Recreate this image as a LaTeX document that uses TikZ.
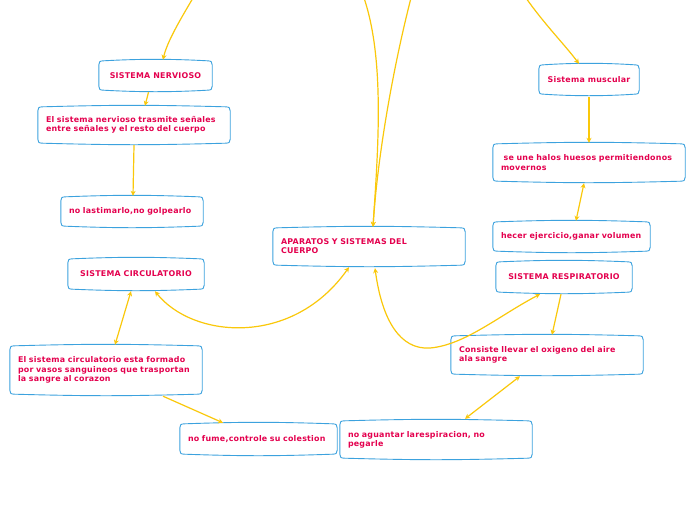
\documentclass[tikz,border=0pt]{standalone}
\usepackage{fontspec}
\newfontfamily\mmfont{DejaVu Sans}[LetterSpace=3]
\usetikzlibrary{calc,arrows.meta}
\definecolor{mmtext}{RGB}{228,0,78}
\definecolor{mmblue}{RGB}{60,162,222}
\definecolor{mmyel}{RGB}{250,200,10}
\tikzset{
  mmnode/.style={inner xsep=8pt, inner ysep=0pt, text=mmtext, font=\mmfont\bfseries\fontsize{7.9}{9.2}\selectfont, align=left},
  mmcenter/.style={mmnode, align=center},
  frame/.style={draw=mmblue, line width=0.9pt},
  conn/.style={draw=mmyel, line width=1.2pt, -{Stealth[length=5pt,width=5pt]}},
  conn2/.style={draw=mmyel, line width=1.2pt, {Stealth[length=5pt,width=5pt]}-{Stealth[length=5pt,width=5pt]}},
}
\newcommand\mmframe[1]{%
\draw[frame] ($(#1.south west)+(0pt,4pt)$) -- ($(#1.north west)+(0pt,-4pt)$)
 .. controls ($(#1.north west)+(0pt,-1pt)$) and ($(#1.north west)+(1pt,0pt)$) .. ($(#1.north west)+(5pt,0pt)$)
 .. controls ($(#1.north)+(-15pt,2pt)$) and ($(#1.north)+(15pt,2pt)$) .. ($(#1.north east)+(-5pt,0pt)$)
 .. controls ($(#1.north east)+(-1pt,0pt)$) and ($(#1.north east)+(0pt,-1pt)$) .. ($(#1.north east)+(0pt,-4pt)$)
 -- ($(#1.south east)+(0pt,4pt)$)
 .. controls ($(#1.south east)+(0pt,1pt)$) and ($(#1.south east)+(-1pt,0pt)$) .. ($(#1.south east)+(-5pt,0pt)$)
 .. controls ($(#1.south)+(15pt,-2pt)$) and ($(#1.south)+(-15pt,-2pt)$) .. ($(#1.south west)+(5pt,0pt)$)
 .. controls ($(#1.south west)+(1pt,0pt)$) and ($(#1.south west)+(0pt,1pt)$) .. ($(#1.south west)+(0pt,4pt)$) -- cycle;}
\begin{document}
\begin{tikzpicture}[x=1pt,y=-1pt]
\fill[white] (0,0) rectangle (696,520);
\useasboundingbox (0,0) rectangle (696,520);
% nodes
\node[mmcenter, minimum width=113pt, minimum height=29pt] (nerv) at (155.5,75.5) {SISTEMA NERVIOSO};
\node[mmnode, text width=176pt, minimum height=36pt] (nervd) at (134,125) {El sistema nervioso trasmite señales\\entre señales y el resto del cuerpo};
\node[mmnode, text width=126pt, minimum height=29pt] (lastim) at (132,211.5) {no lastimarlo,no golpearlo};
\node[mmnode, text width=176pt, minimum height=37pt] (apar) at (369,246.5) {APARATOS Y SISTEMAS DEL\\CUERPO};
\node[mmcenter, minimum width=136pt, minimum height=30pt] (circ) at (136,274) {SISTEMA CIRCULATORIO};
\node[mmnode, text width=176pt, minimum height=48pt] (circd) at (106,370) {El sistema circulatorio esta formado\\por vasos sanguineos que trasportan\\la sangre al corazon};
\node[mmnode, text width=141pt, minimum height=30pt] (fume) at (258.5,439) {no fume,controle su colestion};
\node[mmnode, text width=176pt, minimum height=37pt] (aguant) at (436,439.5) {no aguantar larespiracion, no\\pegarle};
\node[mmnode, text width=176pt, minimum height=38pt] (consist) at (547,355) {Consiste llevar el oxigeno del aire\\ala sangre};
\node[mmcenter, minimum width=136pt, minimum height=30pt] (resp) at (564,277) {SISTEMA RESPIRATORIO};
\node[mmnode, text width=141pt, minimum height=29pt] (hecer) at (571.5,236.5) {hecer ejercicio,ganar volumen};
\node[mmnode, text width=176pt, minimum height=37pt] (seune) at (589,162.5) {\ se une halos huesos permitiendonos\\movernos};
\node[mmcenter, minimum width=100pt, minimum height=29pt] (musc) at (589,79.5) {Sistema muscular};
\foreach \n in {nerv,nervd,lastim,apar,circ,circd,fume,aguant,consist,resp,hecer,seune,musc}{\mmframe{\n}}
% off-canvas ends
\coordinate (t1) at (193,-2);
\coordinate (t2) at (364,-2);
\coordinate (t3) at (411,-2);
\coordinate (t4) at (526,-2);
% connectors
\draw[conn] (t1) .. controls (180,20) and (167,42) .. ($(nerv.north)+(7.5pt,1pt)$);
\draw[conn] ($(nerv.south)+(-7pt,-2pt)$) -- ($(nervd.north)+(11pt,1pt)$);
\draw[conn] ($(nervd.south)+(0pt,-2pt)$) -- ($(lastim.north)+(1pt,1pt)$);
\draw[conn] (t2) .. controls (385,60) and (378,150) .. ($(apar.north)+(4pt,1pt)$);
\draw[conn] (t3) .. controls (395,60) and (378,150) .. ($(apar.north)+(4pt,1pt)$);
\draw[conn] (t4) .. controls (545,25) and (565,45) .. ($(musc.north)+(-10pt,1pt)$);
\draw[conn] ($(musc.south)+(0pt,-3pt)$) -- ($(seune.north)+(0pt,1pt)$);
\draw[conn2] ($(hecer.north)+(4.5pt,1pt)$) -- ($(seune.south)+(-5pt,-2pt)$);
\draw[conn2] ($(circ.south)+(-5pt,-2pt)$) -- ($(circd.north)+(9pt,1pt)$);
\draw[conn2] ($(circ.south)+(19pt,-2pt)$) .. controls (192,338) and (292,348) .. ($(apar.south)+(-20pt,-2pt)$);
\draw[conn] ($(circd.south)+(57pt,-2pt)$) -- ($(fume.north)+(-35.5pt,1pt)$);
\draw[conn2] ($(apar.south)+(6pt,-3pt)$) .. controls (382,320) and (400,350) .. (430,348) .. controls (465,345) and (500,315) .. ($(resp.south)+(-24pt,-2pt)$);
\draw[conn] ($(resp.south)+(-3pt,-2pt)$) -- ($(consist.north)+(5pt,1pt)$);
\draw[conn2] ($(consist.south)+(-27pt,-2pt)$) -- ($(aguant.north)+(29pt,2pt)$);
\end{tikzpicture}
\end{document}
